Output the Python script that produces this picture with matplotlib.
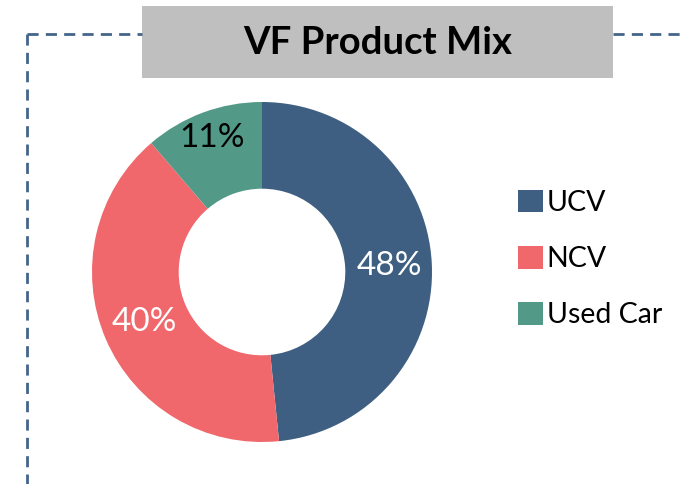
import matplotlib
matplotlib.use("Agg")
import matplotlib.pyplot as plt
import matplotlib.patches as mpatches

plt.rcParams['font.family'] = ['Lato', 'DejaVu Sans']

# data
categories = ['UCV', 'NCV', 'Used Car']
shares = [48.4, 40.3, 11.3]
colors = ['#3E5F81', '#F0686C', '#529A87']
label_colors = ['white', 'white', 'black']

W, H = 684, 484
fig = plt.figure(figsize=(W / 100, H / 100), dpi=100)

# background layer in pixel coordinates for the frame and title box
bg = fig.add_axes([0, 0, 1, 1])
bg.set_xlim(0, W)
bg.set_ylim(H, 0)
bg.axis('off')

dash_kw = dict(color='#44658A', lw=2, linestyle=(0, (4, 2.6)))
bg.plot([27, 142], [34, 34], **dash_kw)
bg.plot([613, W], [34, 34], **dash_kw)
bg.plot([27, 27], [34, H], **dash_kw)

bg.add_patch(mpatches.Rectangle((142, 6), 471, 72, facecolor='#BFBFBF', edgecolor='none'))
bg.text(378, 43, 'VF Product Mix', ha='center', va='center',
        fontsize=27.5, fontweight='bold', color='black')

# donut
cx, cy, r = 262, 272, 170
ax = fig.add_axes([(cx - r) / W, (H - cy - r) / H, 2 * r / W, 2 * r / H])
wedges, texts, autotexts = ax.pie(
    shares, colors=colors, startangle=90, counterclock=False,
    radius=1, wedgeprops=dict(width=0.51, edgecolor='none'),
    autopct=lambda p: f'{p:.0f}%', pctdistance=0.75)
for t, c in zip(autotexts, label_colors):
    t.set_color(c)
    t.set_fontsize(24)
# small slice label sits further out
x, y = autotexts[2].get_position()
autotexts[2].set_position((x * 0.84 / 0.75, y * 0.84 / 0.75))
ax.set_xlim(-1, 1)
ax.set_ylim(-1, 1)
ax.set_aspect('equal')

handles = [mpatches.Patch(facecolor=c, edgecolor='none', label=l)
           for c, l in zip(colors, categories)]
fig.legend(handles=handles, loc='center left',
           bbox_to_anchor=(507 / W, 1 - 259 / H), frameon=False,
           fontsize=20.5, handlelength=0.85, handleheight=0.85,
           handletextpad=0.15, labelspacing=1.05, borderaxespad=0)

fig.savefig('out.png', dpi=100)
